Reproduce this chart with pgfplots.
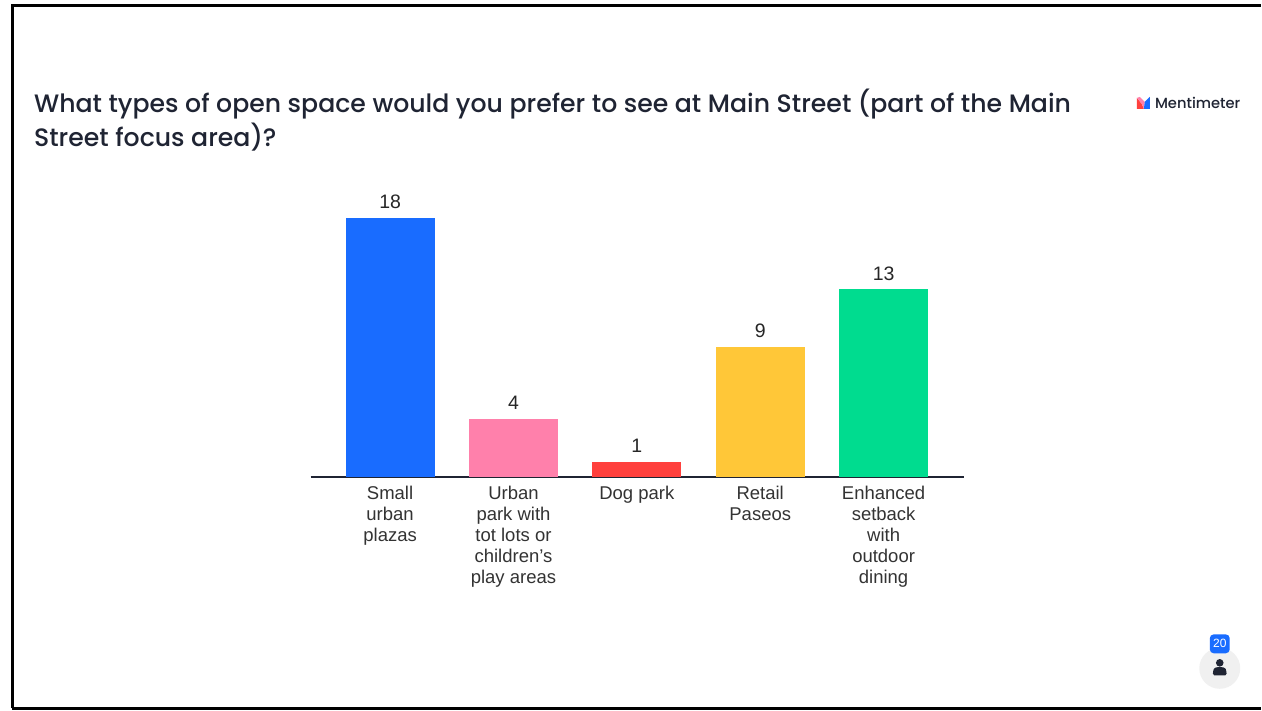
\documentclass[border=0pt]{standalone}
\usepackage{pgfplots}
\pgfplotsset{compat=1.18}
\usepackage{fontspec}
\setmainfont{Liberation Sans}
\newfontfamily\titlefont{Poppins Medium}
\definecolor{inkdark}{HTML}{1F2433}
\definecolor{menblue}{HTML}{196CFF}
\definecolor{menpink}{HTML}{FF80AB}
\definecolor{menred}{HTML}{FF403D}
\definecolor{menyellow}{HTML}{FFC738}
\definecolor{mengreen}{HTML}{00DC8F}
\begin{document}
\begin{tikzpicture}[x=1pt,y=1pt]
% slide background and frame
\path[fill=white] (0,0) rectangle (1262,711);
\draw[black,line width=2.6pt] (12.5,2) -- (12.5,705.5) -- (1262,705.5);
\draw[black,line width=2.6pt] (12.5,2) -- (1262,2);
% heading
\node[anchor=base west,inner sep=0pt,text=inkdark,font=\titlefont\fontsize{25.2}{25.2}\selectfont] at (34,711-113) {What types of open space would you prefer to see at Main Street (part of the Main};
\node[anchor=base west,inner sep=0pt,text=inkdark,font=\titlefont\fontsize{25.2}{25.2}\selectfont] at (34,711-147) {Street focus area)?};
% brand mark
\fill[menred] (1138,711-109) -- (1138,711-98) -- (1143,711-104) -- (1145,711-109) -- cycle;
\fill[menpink] (1138,711-98) -- (1143,711-104) -- (1145,711-109) -- (1146,711-102) -- (1141,711-97) -- cycle;
\fill[menblue] (1145,711-109) -- (1146,711-102) -- (1151,711-97) -- (1151,711-109) -- cycle;
\node[anchor=base west,inner sep=0pt,text=inkdark,font=\titlefont\fontsize{14.7}{14.7}\selectfont] at (1156,711-108.5) {Mentimeter};
% responses
\begin{axis}[
  at={(311pt,234pt)},anchor=south west,
  scale only axis,width=654pt,height=288pt,
  xmin=-0.6437,xmax=4.6518,ymin=0,ymax=20,
  axis x line*=bottom,axis y line=none,
  axis line style={inkdark,line width=2pt,-},
  xtick={0,1,2,3,4},tick style={draw=none},
  xticklabels={Small\\urban\\plazas,Urban\\park with\\tot lots or\\children's\\play areas,Dog park,Retail\\Paseos,Enhanced\\setback\\with\\outdoor\\dining},
  xticklabel style={align=center,font=\fontsize{18.5}{21}\selectfont,text=black!80,inner sep=0pt,yshift=-5pt},
  ybar,bar width=89pt,
  nodes near coords,
  /pgf/number format/assume math mode=true,
  every node near coord/.style={font=\fontsize{19.5}{19.5}\selectfont,text=black!85,inner sep=0pt,yshift=9pt},
  clip=false,
]
\addplot[bar shift=0pt,fill=menblue,draw=none] coordinates {(0,18)};
\addplot[bar shift=0pt,fill=menpink,draw=none] coordinates {(1,4)};
\addplot[bar shift=0pt,fill=menred,draw=none] coordinates {(2,1)};
\addplot[bar shift=0pt,fill=menyellow,draw=none] coordinates {(3,9)};
\addplot[bar shift=0pt,fill=mengreen,draw=none] coordinates {(4,13)};
\end{axis}
% participant counter
\fill[black!6] (1221,711-669) circle (20.5);
\fill[menblue,rounded corners=4pt] (1211,711-654) rectangle (1231,711-635);
\node[text=white,inner sep=0pt,font=\fontsize{12}{12}\selectfont] at (1221,711-644.5) {20};
\fill[inkdark] (1221,711-663.5) circle (3.8);
\fill[inkdark,rounded corners=1.5pt] (1214,711-676) -- (1214.5,711-671) .. controls (1216,711-667) and (1226,711-667) .. (1227.5,711-671) -- (1228,711-676) -- cycle;
\end{tikzpicture}
\end{document}
